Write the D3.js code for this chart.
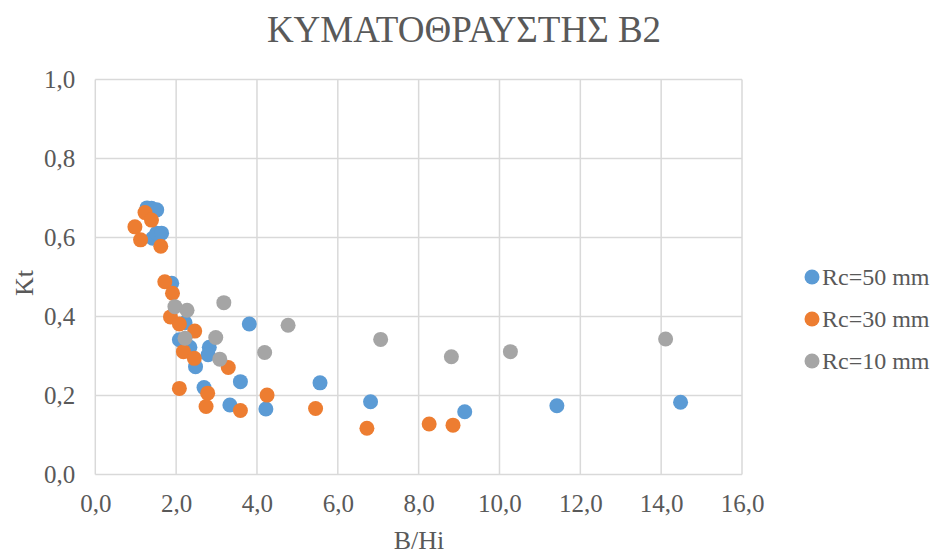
<!DOCTYPE html>
<html>
<head>
<meta charset="utf-8">
<script src="https://cdn.jsdelivr.net/npm/d3@7"></script>
<style>
  body { margin: 0; background: #fff; }
  svg text { font-family: "Liberation Serif", "Times New Roman", serif; fill: #595959; }
</style>
</head>
<body>
<svg id="chart" width="933" height="554"></svg>
<script>
// Transmission coefficient Kt versus relative crest width B/Hi, breakwater B2
const seriesNames = ["Rc=50 mm", "Rc=30 mm", "Rc=10 mm"];
const seriesColors = ["#5B9BD5", "#ED7D31", "#A5A5A5"];

const rc50X = [1.28, 1.39, 1.52, 1.42, 1.52, 1.64, 1.89, 2.22, 2.08, 2.34, 2.48, 2.82, 2.79, 2.69, 3.33, 3.59, 3.81, 4.22, 5.56, 6.81, 9.14, 11.42, 14.48];
const rc50Y = [0.675, 0.674, 0.670, 0.598, 0.611, 0.611, 0.484, 0.384, 0.341, 0.322, 0.273, 0.322, 0.303, 0.220, 0.176, 0.235, 0.381, 0.166, 0.232, 0.184, 0.159, 0.174, 0.183];

const rc30X = [0.98, 1.12, 1.23, 1.39, 1.62, 1.72, 1.91, 1.86, 2.08, 2.46, 2.18, 2.45, 3.29, 2.08, 2.78, 2.74, 3.59, 4.25, 5.45, 6.72, 8.26, 8.85];
const rc30Y = [0.627, 0.594, 0.663, 0.644, 0.578, 0.488, 0.459, 0.399, 0.381, 0.363, 0.311, 0.294, 0.271, 0.218, 0.206, 0.172, 0.162, 0.201, 0.167, 0.117, 0.128, 0.125];

const rc10X = [1.97, 2.27, 3.18, 2.22, 2.98, 3.08, 4.19, 4.77, 7.06, 8.81, 10.27, 14.11];
const rc10Y = [0.425, 0.416, 0.435, 0.345, 0.347, 0.292, 0.309, 0.378, 0.342, 0.298, 0.311, 0.343];

const xTicks = [0, 2, 4, 6, 8, 10, 12, 14, 16];
const yTicks = [0, 0.2, 0.4, 0.6, 0.8, 1.0];

const titleText = "ΚΥΜΑΤΟΘΡΑΥΣΤΗΣ Β2";
const xTitle = "B/Hi";
const yTitle = "Kt";

const series = [
  { name: seriesNames[0], color: seriesColors[0], xs: rc50X, ys: rc50Y },
  { name: seriesNames[1], color: seriesColors[1], xs: rc30X, ys: rc30Y },
  { name: seriesNames[2], color: seriesColors[2], xs: rc10X, ys: rc10Y }
];

const serif = "'Liberation Serif', 'Times New Roman', serif";
const svg = d3.select("#chart");
const plot = { left: 95.3, right: 742, top: 79.5, bottom: 474.5 };

const x = d3.scaleLinear().domain([0, 16]).range([plot.left, plot.right]);
const y = d3.scaleLinear().domain([0, 1]).range([plot.bottom, plot.top]);
const fmt = v => d3.format(".1f")(v).replace(".", ",");

// gridlines
const grid = svg.append("g");
grid.selectAll("line.v").data(xTicks).join("line")
  .attr("x1", d => x(d)).attr("x2", d => x(d))
  .attr("y1", plot.top).attr("y2", plot.bottom)
  .attr("stroke", "#D9D9D9").attr("stroke-width", 1.5);
grid.selectAll("line.h").data(yTicks).join("line")
  .attr("x1", plot.left).attr("x2", plot.right)
  .attr("y1", d => y(d)).attr("y2", d => y(d))
  .attr("stroke", "#D9D9D9").attr("stroke-width", 1.5);

// axes (labels only, the frame comes from the gridlines)
const xAxis = svg.append("g")
  .attr("transform", `translate(0,${plot.bottom})`)
  .call(d3.axisBottom(x).tickValues(xTicks).tickFormat(fmt).tickSize(0).tickPadding(20));
const yAxis = svg.append("g")
  .attr("transform", `translate(${plot.left},0)`)
  .call(d3.axisLeft(y).tickValues(yTicks).tickFormat(fmt).tickSize(0).tickPadding(20));
[xAxis, yAxis].forEach(a => {
  a.select(".domain").remove();
  a.attr("font-family", null).attr("font-size", null);
  a.selectAll("text").style("font-size", "25px").style("fill", "#595959")
    .style("font-family", serif);
});

// points
series.forEach(s => {
  const pts = s.xs.map((v, i) => [v, s.ys[i]]);
  svg.append("g").selectAll("circle").data(pts).join("circle")
    .attr("cx", d => x(d[0])).attr("cy", d => y(d[1]))
    .attr("r", 7.5).attr("fill", s.color);
});

// title
svg.append("text").attr("x", 464).attr("y", 42).attr("text-anchor", "middle")
  .style("font-size", "37px").style("font-family", serif).text(titleText);

// axis titles
svg.append("text").attr("x", 419).attr("y", 549).attr("text-anchor", "middle")
  .style("font-size", "26px").style("font-family", serif).text(xTitle);
svg.append("text").attr("transform", "translate(33,283) rotate(-90)")
  .attr("text-anchor", "middle").style("font-size", "26px").style("font-family", serif).text(yTitle);

// legend
const legend = svg.append("g");
series.forEach((s, i) => {
  const ly = 277 + i * 42;
  legend.append("circle").attr("cx", 812).attr("cy", ly).attr("r", 7.5).attr("fill", s.color);
  legend.append("text").attr("x", 822).attr("y", ly + 8)
    .style("font-size", "24px").style("font-family", serif).text(s.name);
});
</script>
</body>
</html>
